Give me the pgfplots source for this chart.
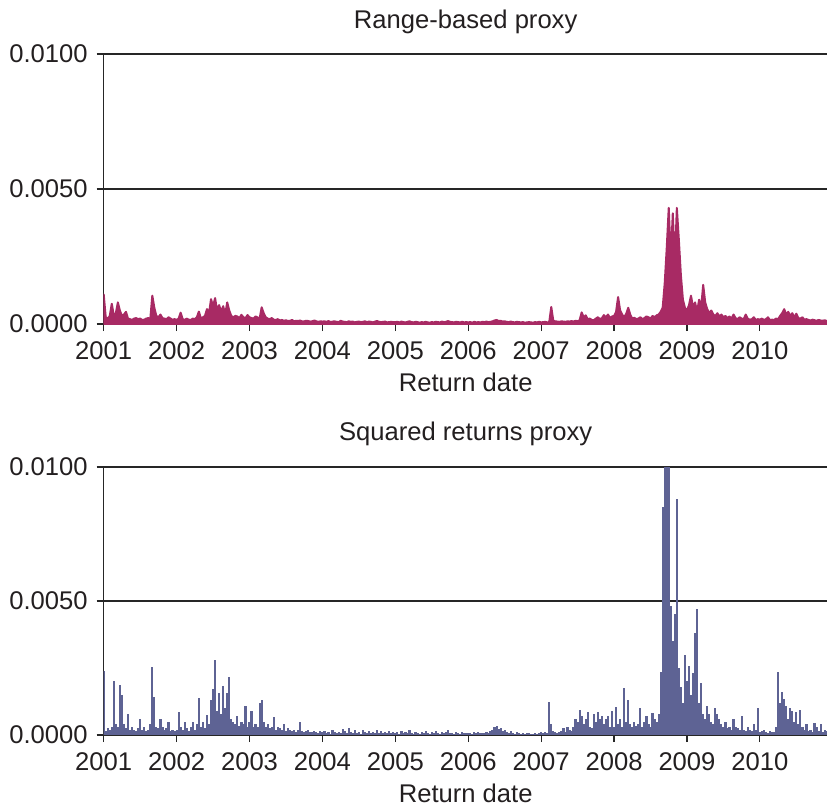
\documentclass[border=0pt]{standalone}
\usepackage{pgfplots}
\pgfplotsset{compat=1.18}
\usepackage{pgfplotstable}
\usepackage{fontspec}
\setmainfont{Liberation Sans}
\definecolor{txt}{RGB}{35,31,32}
\definecolor{rangec}{RGB}{168,42,100}
\definecolor{sqc}{RGB}{94,99,148}

% values in units of 1e-4, one sample every 1/36 year starting 2001
\pgfplotstableread[row sep=\\]{v\\
11\\ 2.5\\ 2\\ 3\\ 7.5\\ 3\\ 4\\ 8\\ 5\\ 3\\ 3.5\\ 4.5\\ 2\\ 1.8\\ 1.5\\ 2\\ 2.2\\ 1.8\\ 2\\ 1.5\\ 1.6\\ 2\\ 2.2\\ 1.8\\ 10.5\\ 6\\ 3\\ 2.5\\ 3.5\\ 2.2\\ 2\\ 1.8\\ 2.5\\ 2\\ 1.6\\ 1.8\\
1.5\\ 2\\ 4.2\\ 1.8\\ 1.5\\ 2\\ 1.6\\ 1.5\\ 2\\ 1.8\\ 2.5\\ 4.6\\ 2\\ 2.5\\ 3\\ 5.5\\ 4\\ 9.2\\ 6.5\\ 9.6\\ 5\\ 7\\ 4.5\\ 6.6\\ 3.5\\ 8\\ 5\\ 3\\ 2.5\\ 3\\ 2.8\\ 2.2\\ 3.4\\ 2.5\\ 2.2\\ 3.3\\
2.5\\ 2.2\\ 2\\ 2.8\\ 2.4\\ 2\\ 6.2\\ 4\\ 2.5\\ 2\\ 1.8\\ 2.2\\ 1.6\\ 1.5\\ 1.8\\ 1.3\\ 1.5\\ 1.2\\ 1.4\\ 1.1\\ 1.2\\ 1.5\\ 1\\ 1.2\\ 1.1\\ 1.3\\ 0.9\\ 1\\ 1.2\\ 1.1\\ 0.9\\ 1\\ 1.3\\ 1\\ 0.8\\ 1\\
0.9\\ 1\\ 0.8\\ 1.1\\ 0.7\\ 0.9\\ 1\\ 0.8\\ 0.7\\ 1.2\\ 0.9\\ 0.8\\ 0.7\\ 1\\ 0.8\\ 0.9\\ 0.6\\ 0.8\\ 0.9\\ 0.7\\ 0.8\\ 1\\ 0.7\\ 0.9\\ 0.8\\ 0.6\\ 0.9\\ 1.1\\ 0.8\\ 0.7\\ 0.8\\ 0.9\\ 0.6\\ 0.7\\ 0.8\\ 0.7\\
0.7\\ 0.8\\ 0.6\\ 0.9\\ 0.7\\ 0.6\\ 0.8\\ 1\\ 0.7\\ 0.6\\ 0.8\\ 0.7\\ 0.5\\ 0.7\\ 0.6\\ 0.8\\ 0.6\\ 0.5\\ 0.7\\ 0.6\\ 0.8\\ 0.7\\ 0.6\\ 0.9\\ 0.7\\ 0.8\\ 1.1\\ 0.8\\ 0.7\\ 0.6\\ 0.8\\ 0.7\\ 0.6\\ 0.8\\ 0.6\\ 0.7\\
0.6\\ 0.7\\ 0.5\\ 0.8\\ 0.6\\ 0.7\\ 0.6\\ 0.8\\ 0.7\\ 0.9\\ 0.7\\ 0.8\\ 1\\ 1.3\\ 1.5\\ 1.1\\ 1.2\\ 0.9\\ 1\\ 0.8\\ 0.7\\ 0.9\\ 0.7\\ 0.6\\ 0.8\\ 0.7\\ 0.6\\ 0.7\\ 0.5\\ 0.6\\ 0.7\\ 0.6\\ 0.5\\ 0.7\\ 0.6\\ 0.8\\
0.6\\ 0.7\\ 0.8\\ 0.6\\ 0.7\\ 6.3\\ 1.2\\ 1\\ 0.9\\ 0.8\\ 1\\ 0.9\\ 0.8\\ 1\\ 0.9\\ 1.1\\ 0.9\\ 1.2\\ 1\\ 1.4\\ 4.3\\ 2.5\\ 3.2\\ 1.8\\ 2\\ 1.5\\ 1.4\\ 2\\ 2.5\\ 1.8\\ 2.2\\ 3.3\\ 2.5\\ 3.5\\ 2.2\\ 2.8\\
3\\ 4.5\\ 10\\ 5\\ 3.5\\ 2.5\\ 3.8\\ 6\\ 3.5\\ 2\\ 2.3\\ 1.8\\ 2\\ 2.5\\ 1.8\\ 2.2\\ 2.8\\ 2.5\\ 2\\ 3\\ 2.5\\ 3.2\\ 3.5\\ 4.5\\ 6\\ 15\\ 28\\ 43\\ 24\\ 41\\ 22\\ 43\\ 31\\ 18\\ 9\\ 6\\
5\\ 7\\ 10.5\\ 6\\ 8\\ 4.5\\ 9\\ 6\\ 14.5\\ 8\\ 5.5\\ 4\\ 5\\ 3.5\\ 3\\ 4\\ 2.8\\ 3.5\\ 2.5\\ 3\\ 2.2\\ 2.8\\ 2\\ 3.5\\ 2.2\\ 1.8\\ 2.5\\ 2\\ 1.8\\ 3.5\\ 2\\ 1.6\\ 1.8\\ 2.5\\ 1.5\\ 1.8\\
1.6\\ 2\\ 1.5\\ 1.8\\ 2.5\\ 1.4\\ 1.6\\ 1.5\\ 2\\ 1.8\\ 3\\ 4\\ 5.5\\ 3.5\\ 4.5\\ 3\\ 4\\ 2.5\\ 3.8\\ 2.2\\ 2\\ 2.5\\ 1.6\\ 1.8\\ 1.5\\ 1.3\\ 1.6\\ 1.4\\ 1.2\\ 1.5\\ 1.3\\ 1.2\\ 1.4\\ 1.1\\
}\rangetab

\pgfplotstableread[row sep=\\]{v\\
24\\ 1.5\\ 2.5\\ 2\\ 3\\ 20\\ 4\\ 3\\ 18.5\\ 15\\ 4\\ 2.5\\ 8\\ 2\\ 3\\ 2\\ 1.5\\ 2.5\\ 6\\ 2\\ 3\\ 1.5\\ 2\\ 4\\ 25.5\\ 14\\ 3\\ 2.5\\ 6\\ 3\\ 2\\ 2.5\\ 5\\ 1.5\\ 2\\ 1.5\\
2\\ 8.6\\ 3\\ 2\\ 5\\ 2.5\\ 1.5\\ 3\\ 5\\ 2\\ 4\\ 13.8\\ 3\\ 5\\ 2.5\\ 7.5\\ 4\\ 13\\ 17\\ 28\\ 9\\ 15.7\\ 8\\ 18.3\\ 10\\ 15.7\\ 21.6\\ 6\\ 5\\ 4\\ 7\\ 3.5\\ 5\\ 4\\ 10.8\\ 3\\
5\\ 9\\ 3\\ 4\\ 3\\ 12\\ 13\\ 5\\ 3\\ 4\\ 2.5\\ 3\\ 6.7\\ 2\\ 3\\ 2.5\\ 2\\ 4\\ 1.5\\ 2.5\\ 2\\ 1.5\\ 2\\ 1.2\\ 1.8\\ 5\\ 1.5\\ 1\\ 1.5\\ 2\\ 1.2\\ 1\\ 1.5\\ 1.2\\ 0.8\\ 1.5\\
1\\ 1.5\\ 0.8\\ 1.2\\ 0.5\\ 2\\ 1\\ 0.6\\ 1.3\\ 0.8\\ 2.2\\ 1.5\\ 0.7\\ 2.5\\ 1\\ 0.6\\ 1.8\\ 0.9\\ 1.2\\ 0.5\\ 2\\ 1.1\\ 0.7\\ 1.5\\ 0.8\\ 1.2\\ 0.6\\ 1.7\\ 0.9\\ 1.4\\ 0.6\\ 1.1\\ 0.8\\ 1.5\\ 0.7\\ 1\\
0.8\\ 1.2\\ 0.5\\ 1.5\\ 0.7\\ 1\\ 0.6\\ 1.8\\ 0.9\\ 0.5\\ 1.3\\ 0.7\\ 0.4\\ 1.1\\ 0.8\\ 1.4\\ 0.6\\ 0.5\\ 1.2\\ 0.7\\ 1.6\\ 0.9\\ 0.5\\ 1.3\\ 0.7\\ 1\\ 1.8\\ 0.8\\ 0.6\\ 0.5\\ 1.2\\ 0.7\\ 0.5\\ 1\\ 0.6\\ 0.8\\
0.6\\ 0.8\\ 0.5\\ 1\\ 0.7\\ 1.2\\ 0.6\\ 0.9\\ 0.8\\ 1.3\\ 0.7\\ 1.5\\ 2\\ 3\\ 3.5\\ 2.2\\ 2.8\\ 1.5\\ 1.8\\ 1.2\\ 0.8\\ 1.4\\ 0.7\\ 0.5\\ 1\\ 0.6\\ 0.5\\ 0.8\\ 0.4\\ 0.6\\ 0.9\\ 0.5\\ 0.4\\ 0.7\\ 0.5\\ 0.8\\
1\\ 0.8\\ 1.2\\ 0.6\\ 12.4\\ 4\\ 1.5\\ 1\\ 0.8\\ 1.2\\ 1.5\\ 2.5\\ 1.2\\ 3\\ 2\\ 1.5\\ 3\\ 6\\ 5\\ 9.3\\ 7\\ 4\\ 6\\ 8.6\\ 3\\ 2.5\\ 8\\ 5\\ 8.6\\ 6\\ 7\\ 4\\ 6\\ 7\\ 3\\ 9\\
3\\ 10.5\\ 4\\ 6\\ 3\\ 17.5\\ 5\\ 13\\ 4\\ 3\\ 5\\ 3.5\\ 4\\ 10\\ 3\\ 5\\ 7\\ 4\\ 3\\ 8.2\\ 6\\ 5\\ 8\\ 23.5\\ 85\\ 120\\ 130\\ 115\\ 48\\ 35\\ 45\\ 88\\ 25\\ 18\\ 12\\ 30\\
20\\ 25.7\\ 15\\ 23\\ 38\\ 47\\ 12\\ 19.4\\ 8\\ 6\\ 10.8\\ 8\\ 5\\ 4\\ 10\\ 8\\ 6\\ 4\\ 3\\ 5\\ 2.5\\ 3\\ 2\\ 6\\ 3\\ 2.5\\ 2\\ 7\\ 2\\ 1.5\\ 3\\ 2\\ 1.5\\ 4\\ 2\\ 10\\
1\\ 1.5\\ 2\\ 1\\ 0.8\\ 1.5\\ 1\\ 1.2\\ 3\\ 23.5\\ 12\\ 16\\ 13.5\\ 11\\ 6\\ 10\\ 9\\ 5\\ 8.6\\ 4\\ 9.3\\ 3\\ 2\\ 4\\ 1.5\\ 2\\ 1\\ 4.5\\ 3\\ 1.5\\ 4\\ 1\\ 2\\ 1.5\\
}\sqtab

\pgfplotsset{
  proxyaxis/.style={
    scale only axis, width=362pt,
    xmin=2001, xmax=2010.93, ymin=0, ymax=100,
    axis lines=left, axis line style={-, line width=0.6pt, black!85},
    xtick={2001,2002,2003,2004,2005,2006,2007,2008,2009,2010},
    xticklabels={2001,2002,2003,2004,2005,2006,2007,2008,2009,2010},
    ytick={0,50,100}, yticklabels={0.0000,0.0050,0.0100},
    ymajorgrids, grid style={line width=0.6pt, black!85},
    tick style={line width=0.6pt, black!85},
    tick align=outside, major tick length=3.5pt,
    tick label style={font=\fontsize{12.8}{15}\selectfont, text=txt},
    xticklabel style={anchor=base, yshift=-14pt},
    yticklabel style={anchor=east, xshift=-1pt},
    xlabel={Return date},
    xlabel style={at={(axis description cs:0.5,0)}, anchor=base, yshift=-33.5pt, font=\fontsize{12.8}{15}\selectfont, text=txt},
    title style={at={(axis description cs:0.5,1)}, anchor=base, font=\fontsize{12.8}{15}\selectfont, text=txt},
    clip=true,
  }
}

\begin{document}
\begin{tikzpicture}[x=1pt,y=1pt]
\useasboundingbox (0,0) rectangle (413.5,-402.5);
\begin{axis}[proxyaxis, height=135pt, at={(51.85pt,-162pt)}, anchor=south west,
  title={Range-based proxy}, title style={yshift=7pt}]
  \addplot[draw=rangec, fill=rangec, line width=1pt, line join=round] table[x expr={2001+\coordindex/36}, y=v] {\rangetab} \closedcycle;
\end{axis}
\begin{axis}[proxyaxis, height=134pt, at={(51.85pt,-367.5pt)}, anchor=south west,
  title={Squared returns proxy}, title style={yshift=7.5pt}]
  \addplot[sqc, ycomb, line width=1.1pt] table[x expr={2001+\coordindex/36}, y=v] {\sqtab};
\end{axis}
\end{tikzpicture}
\end{document}
